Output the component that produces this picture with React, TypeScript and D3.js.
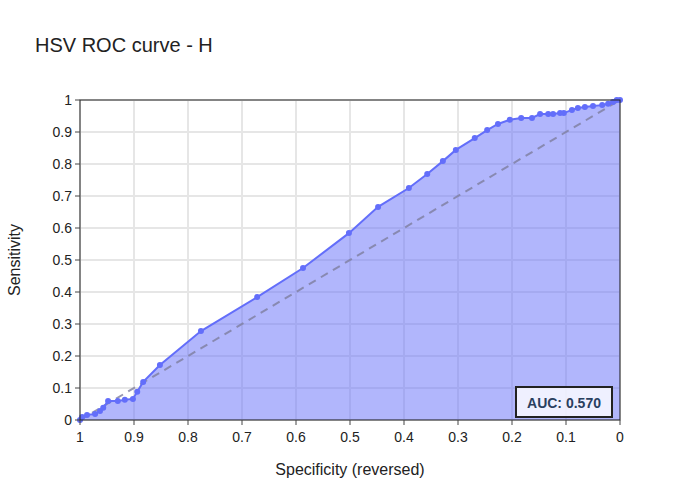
import React from "react";
import * as d3 from "d3";

const fpr = [0,.004,.013,.028,.037,.043,.052,.070,.083,.098,.106,.117,.148,.224,.328,.413,.498,.552,.609,.643,.672,.696,.731,.754,.774,.796,.817,.837,.852,.867,.876,.889,.896,.911,.922,.935,.950,.967,.978,.987,.994,1];
const tpr = [0,.009,.016,.019,.028,.038,.059,.059,.063,.066,.088,.119,.172,.278,.384,.475,.584,.666,.725,.769,.809,.844,.881,.906,.925,.938,.944,.944,.956,.956,.956,.959,.959,.969,.975,.978,.981,.984,.988,.994,1,1];
const ticks = [1,0.9,0.8,0.7,0.6,0.5,0.4,0.3,0.2,0.1,0];
const auc = "AUC: 0.570";

export default function App() {
  const W = 700, H = 500, L = 80, R = 620, T = 100, B = 420;
  const x = d3.scaleLinear().domain([1, 0]).range([L, R]);
  const y = d3.scaleLinear().domain([0, 1]).range([B, T]);
  const pts = fpr.map((f, i) => [1 - f, tpr[i]] as [number, number]);
  const line = d3.line<[number, number]>().x(d => x(d[0])).y(d => y(d[1]));
  const area = d3.area<[number, number]>().x(d => x(d[0])).y0(y(0)).y1(d => y(d[1]));
  const font = "'Liberation Sans', Arial, sans-serif";
  return (
    <svg width={W} height={H} style={{ position: "absolute", left: 0, top: 0, fontFamily: font }}>
      <rect width={W} height={H} fill="white" />
      {ticks.map(t => (
        <g key={t}>
          <line x1={x(t)} x2={x(t)} y1={T} y2={B} stroke="#e6e6e6" strokeWidth={2} />
          <line x1={L} x2={R} y1={y(t)} y2={y(t)} stroke="#e6e6e6" strokeWidth={2} />
        </g>
      ))}
      <path d={area(pts)!} fill="rgba(99,110,250,0.5)" />
      <line x1={x(1)} y1={y(0)} x2={x(0)} y2={y(1)} stroke="#7f7f9f" strokeWidth={2} strokeDasharray="8,6" opacity={0.8} />
      <path d={line(pts)!} fill="none" stroke="#636efa" strokeWidth={2} />
      {pts.map((p, i) => <circle key={i} cx={x(p[0])} cy={y(p[1])} r={3} fill="#636efa" />)}
      <rect x={L} y={T} width={R - L} height={B - T} fill="none" stroke="#222" strokeWidth={1} />
      {ticks.map(t => (
        <g key={"l" + t}>
          <line x1={x(t)} x2={x(t)} y1={B} y2={B + 5} stroke="#444" />
          <text x={x(t)} y={B + 22} textAnchor="middle" fontSize={14} fill="#222">{String(t)}</text>
          <line x1={L - 5} x2={L} y1={y(t)} y2={y(t)} stroke="#444" />
          <text x={L - 8} y={y(t) + 5} textAnchor="end" fontSize={14} fill="#222">{String(t)}</text>
        </g>
      ))}
      <text x={35} y={52} fontSize={20} fill="#222">HSV ROC curve - H</text>
      <text x={(L + R) / 2} y={475} textAnchor="middle" fontSize={16} fill="#222">Specificity (reversed)</text>
      <text transform={`translate(20,${(T + B) / 2}) rotate(-90)`} textAnchor="middle" fontSize={16} fill="#222">Sensitivity</text>
      <rect x={516} y={387} width={96} height={30} fill="rgba(255,255,255,0.8)" stroke="#222" strokeWidth={2} />
      <text x={564} y={408} textAnchor="middle" fontSize={14} fontWeight="bold" fill="#2a3f5f">{auc}</text>
    </svg>
  );
}
